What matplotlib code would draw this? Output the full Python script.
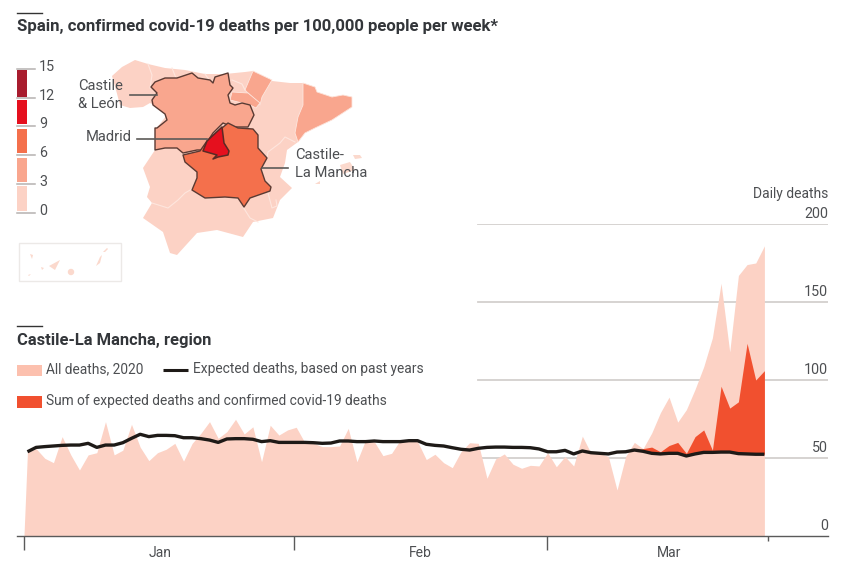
import numpy as np
import matplotlib
matplotlib.use("Agg")
import matplotlib.pyplot as plt
from matplotlib.patches import Polygon, Rectangle, Circle

plt.rcParams['font.family'] = ['Roboto', 'DejaVu Sans']

# ---------- chart data ----------
all_deaths = [54,56,49.8,47,63.7,52,42.3,52,53.4,73.3,52,55,71.6,57,48.3,53.4,55.6,59.4,48,59.4,
              65.8,73.3,62.6,66.9,74.8,65.4,70,47.6,71,64.7,68,69.7,59.8,59.4,57.3,57.3,57.7,69,47.6,61.5,
              60.5,51.5,53,61.5,61.5,60.5,49,52.4,47,43.8,54,59.8,59.4,37,49.4,52.6,46,43.4,45.3,44.9,
              53.4,44.4,50.9,44.9,64,53,53,51,29.5,51,60,56,66,79,89,73,81,94,108.5,127,
              162,118,167,174,175,186]
expected = [54,56.8,57.3,57.7,58.1,58.3,58.3,59.4,56.8,58.3,58.3,59.8,62.6,65.2,63.7,64.5,64.5,64.3,63,63,
            62.4,61.5,60,62.2,62.4,62.4,62,60.5,61.1,60,60,60,60,59.8,59.4,59.6,60.9,60.9,60.5,60.5,
            60.9,60.5,60.5,60.5,61.1,61.1,58.8,58.1,57.7,56.6,55.6,55.1,56.2,56.8,57,57,56.8,56.8,56.6,55.8,
            54,54,54.9,52.6,54.5,53.4,53,52.6,53.8,54,55.1,54.3,53,52.6,53,53,51.3,52.6,53.6,53.6,
            53.8,53.8,52.8,52.6,52.4,52.4]
# expected + confirmed covid deaths, only where it rises above the expected line
sum_days = [70,71,72,73,74,75,76,77,78,79,80,81,82,83,84,85]
sum_deaths = [55.1,56,57,54,58,60,53,63.7,68,55,96,82,86,123.5,100,106]
y_ticks = [0,50,100,150,200]
month_starts = [0,31,60]
month_names = ['Jan','Feb','Mar']
month_centres = [15.6,45.5,74]
end_of_data_tick = 85.4

legend_bins = [0,3,6,9,12,15]
legend_colours = ['#fcd2c5','#f9a68e','#f4704c','#e5101e','#a81c2e']

# ---------- map shapes (screen pixels of the drawing) ----------
spain = [(135,60),(148,64),(165,68),(185,70),(205,74),(225,74),(245,72),(253,71),(272,81),(290,83),(303,83),
         (315,87),(317,92),(332,97),(343,95),(352,97),(352,107),(332,120),(315,128),(305,133),(298,142),(287,150),
         (285,163),(280,177),(292,188),(280,200),(273,218),(253,222),(243,237),(217,230),(197,233),(177,255),
         (170,253),(163,232),(143,218),(152,203),(147,197),(150,187),(143,168),(155,150),(155,130),(167,115),
         (157,107),(150,103),(143,107),(130,108),(120,105),(116,90),(112,76),(122,67)]
catalonia = [(303,83),(315,87),(317,92),(332,97),(343,95),(352,97),(352,107),(332,120),(315,128),(305,133),
             (298,142),(295,133),(298,117),(303,105)]
navarre = [(253,71),(272,80),(262,97),(260,105),(245,90)]
rioja = [(232,92),(248,93),(260,103),(256,108),(250,105),(230,100)]
cyl = [(151,87),(155,82),(165,78),(177,78),(192,73),(198,78),(210,80),(213,83),(215,77),(228,73),(230,85),(233,88),
       (228,95),(230,103),(235,105),(242,103),(250,105),(254,115),(248,127),(233,127),(223,123),(213,133),(202,150),
       (197,150),(183,153),(177,148),(165,148),(155,150),(155,128),(157,128),(167,120),(165,114),(153,105),(152,100),(157,93)]
clm = [(183,155),(200,151),(207,141),(222,128),(228,123),(238,128),(253,129),(258,135),(258,148),(267,158),
       (261,169),(265,181),(271,187),(270,191),(250,198),(244,207),(238,198),(225,197),(205,198),(192,190),
       (197,178),(197,172),(185,162)]
madrid = [(222,127),(224,143),(229,151),(228,155),(218,157),(213,159),(217,155),(203,151),(207,141)]
inner_borders = [
    [(148,64),(152,75),(150,88)],
    [(172,68),(176,78)],
    [(205,74),(210,81)],
    [(232,80),(242,84),(245,90)],
    [(152,203),(168,208),(178,200),(185,193),(192,189)],
    [(243,207),(250,218),(258,222)],
    [(268,193),(272,208),(277,206),(276,200)],
    [(295,142),(285,137),(280,143),(268,152),(267,158)],
]
balearics = [[(340,165),(350,162),(355,170),(343,174)],
             [(353,155),(360,155),(362,158),(355,159)],
             [(315,184),(320,181),(320,184)]]
canary_box = (19,243,102,38)
canaries = [[(30,254),(33,255),(32,259)],
            [(49,266),(60,260),(55,270)],
            [(41,267),(44,268),(42,270)],
            [(28,275),(31,274),(29,276)],
            [(96,266),(100,257),(102,255),(100,263)],
            [(103,252),(107,248),(108,249),(105,252)]]
gran_canaria = (71,272)

PINK = '#fcd2c5'
RED = '#f1502f'
LINE = '#1e1a17'
GREY_TEXT = '#4d4f52'
GRID = '#d3d0ce'
W, H = 856, 572

fig = plt.figure(figsize=(W/100, H/100), dpi=100, facecolor='white')

# ---------- lower chart ----------
ax = fig.add_axes([17/W, 1-536/H, (828-17)/W, (536-224)/H])
ax.set_xlim(-0.8, 92.3)
ax.set_ylim(0, 200)
ax.patch.set_alpha(0)
for s in ['top','left','right']:
    ax.spines[s].set_visible(False)
ax.spines['bottom'].set_color('#5a5a5a')
ax.spines['bottom'].set_linewidth(1.0)

days = np.linspace(0.4, 85.0, len(all_deaths))
grid_from = (478-17)/(828-17)
for v in y_ticks[1:]:
    ax.axhline(v, xmin=grid_from, xmax=1, color=GRID, lw=1.3, zorder=1)

ax.fill_between(np.r_[0.0, days], np.r_[0, all_deaths], 0, color=PINK, lw=0, zorder=2)
exp_on_sum = np.interp(sum_days, np.arange(len(expected)), expected)
ax.fill_between(days[sum_days], exp_on_sum, sum_deaths, color=RED, lw=0, zorder=3)
ax.plot(days, expected, color=LINE, lw=2.4, zorder=4, solid_capstyle='butt')

ax.set_yticks([])
ax.set_xticks(month_starts)
ax.set_xticklabels([])
ax.set_xticks([end_of_data_tick], minor=True)
ax.tick_params(axis='x', which='major', length=10, width=1, color='#5a5a5a', direction='out')
ax.tick_params(axis='x', which='minor', length=3.5, width=1, color='#5a5a5a', direction='out')
for c, m in zip(month_centres, month_names):
    ax.annotate(m, (c, 0), xytext=(0, -17), textcoords='offset pixels', ha='center', va='center',
                fontsize=10, color=GREY_TEXT, annotation_clip=False)
for v in y_ticks:
    ax.annotate(str(v), (1, v), xycoords=('axes fraction', 'data'), xytext=(0, 10),
                textcoords='offset pixels', ha='right', va='center', fontsize=10.3, color=GREY_TEXT)

# ---------- overlay: map, legends, titles ----------
cv = fig.add_axes([0, 0, 1, 1])
cv.set_xlim(0, W)
cv.set_ylim(H, 0)
cv.axis('off')
cv.patch.set_alpha(0)

def poly(pts, fc, ec='none', lw=0, z=2):
    cv.add_patch(Polygon(pts, closed=True, fc=fc, ec=ec, lw=lw, zorder=z, joinstyle='round'))

poly(spain, legend_colours[0], z=2)
poly(catalonia, legend_colours[1], ec='#fde6de', lw=0.6, z=3)
poly(navarre, legend_colours[1], ec='#fde6de', lw=0.6, z=3)
poly(rioja, legend_colours[1], ec='#fde6de', lw=0.6, z=3)
for b in inner_borders:
    xs, ys = zip(*b)
    cv.plot(xs, ys, color='#fee6de', lw=0.8, zorder=3)
poly(cyl, legend_colours[1], ec='#5a3a33', lw=1.0, z=4)
poly(clm, legend_colours[2], ec='#5a3a33', lw=1.0, z=5)
poly(madrid, legend_colours[3], ec='#5a2a25', lw=1.1, z=6)
for b in balearics:
    poly(b, '#fbd9cd', z=3)

x0, y0, bw, bh = canary_box
cv.add_patch(Rectangle((x0, y0), bw, bh, fc='white', ec='#ece9e7', lw=1, zorder=2))
for c in canaries:
    poly(c, '#fbd9cd', z=3)
cv.add_patch(Circle(gran_canaria, 3.2, fc='#fbd9cd', ec='none', zorder=3))

# colour key
bin_tops = [70,100,129,158,186]
bin_bottoms = [96.7,124,153,182,211]
tick_ys = [212.7,184,155,126,97.7,69.3]
for i, col in enumerate(legend_colours):
    t, b = bin_tops[4-i], bin_bottoms[4-i]
    cv.add_patch(Rectangle((17.5, t), 10, b-t, fc=col, ec='none', zorder=2))
for v, y in zip(legend_bins, tick_ys):
    cv.plot([17.5, 35], [y, y], color='#b5b2b0', lw=1.1, zorder=3)
    cv.text(39, y-2, str(v), ha='left', va='center', fontsize=10.3, color=GREY_TEXT)

# map labels and leaders
lead = '#5c5a58'
cv.plot([130,157],[95,95], color=lead, lw=1.2, zorder=7)
cv.plot([137,207],[139,139], color=lead, lw=1.2, zorder=7)
cv.plot([262,288],[168,168], color=lead, lw=1.2, zorder=7)
lab = dict(fontsize=10.6, color=GREY_TEXT, va='center', ha='left', zorder=8)
cv.text(78, 86, 'Castile', **lab)
cv.text(78, 104, '& León', **lab)
cv.text(86, 137, 'Madrid', **lab)
cv.text(295, 155, 'Castile-', **lab)
cv.text(295, 173, 'La Mancha', **lab)

# titles
for y in (12.5, 326):
    cv.plot([17, 42], [y, y], color='#333333', lw=1.0)
cv.text(17, 27, 'Spain, confirmed covid-19 deaths per 100,000 people per week*', fontsize=12.1,
        fontweight='bold', color='#33363a', ha='left', va='center')
cv.text(17, 340, 'Castile-La Mancha, region', fontsize=11.9, fontweight='bold', color='#33363a',
        ha='left', va='center')

# chart legend
cv.add_patch(Rectangle((17, 365), 25, 11, fc='#fcc0ae', ec='none'))
cv.add_patch(Rectangle((17, 396), 25, 12, fc=RED, ec='none'))
cv.plot([163, 188], [370, 370], color=LINE, lw=2.2, solid_capstyle='butt')
tx = dict(fontsize=9.9, color=GREY_TEXT, va='center', ha='left')
cv.text(46, 369, 'All deaths, 2020', **tx)
cv.text(193, 369, 'Expected deaths, based on past years', **tx)
cv.text(46, 401, 'Sum of expected deaths and confirmed covid-19 deaths', **tx)
cv.text(828, 194, 'Daily deaths', fontsize=10, color=GREY_TEXT, va='center', ha='right')

fig.savefig('out.png', dpi=100)
